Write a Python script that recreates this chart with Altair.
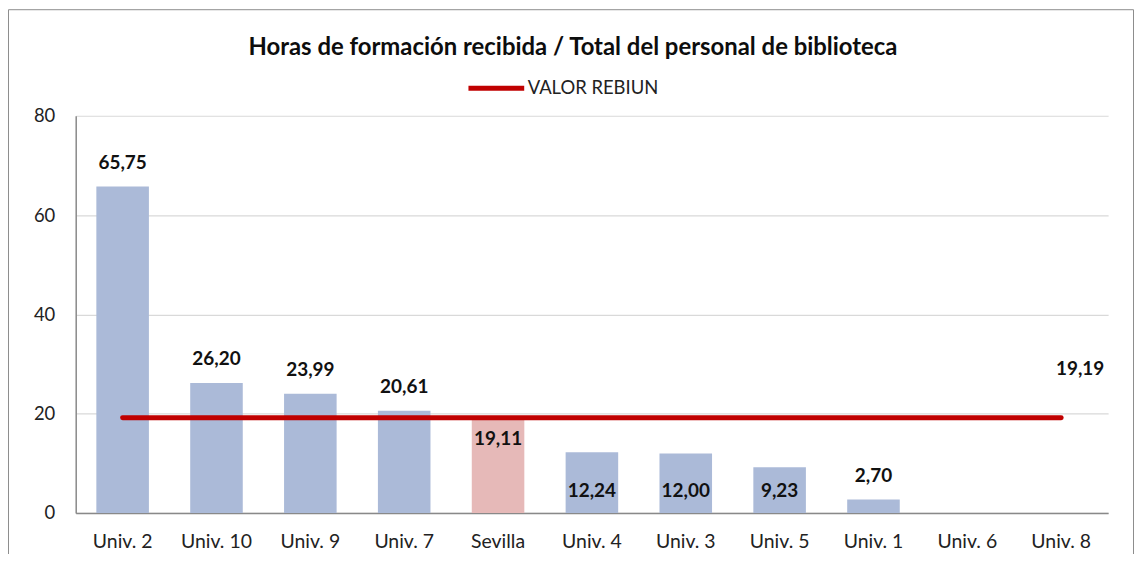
import altair as alt
import pandas as pd

categorias = ["Univ. 2", "Univ. 10", "Univ. 9", "Univ. 7", "Sevilla", "Univ. 4",
              "Univ. 3", "Univ. 5", "Univ. 1", "Univ. 6", "Univ. 8"]
valores = [65.75, 26.20, 23.99, 20.61, 19.11, 12.24, 12.00, 9.23, 2.70, None, None]
posicion_etiqueta = ["above", "above", "above", "above", "end", "base",
                     "base", "base", "above", "none", "none"]
valor_rebiun = 19.19
serie_rebiun = "VALOR REBIUN"
y_ticks = [0, 20, 40, 60, 80]

df = pd.DataFrame({
    "cat": categorias,
    "valor": valores,
    "pos": posicion_etiqueta,
    "rebiun": [valor_rebiun] * len(categorias),
    "serie": [serie_rebiun] * len(categorias),
})

FONT = "Lato"
W, H = 1037, 399
BLUE = "#abbad8"
PINK = "#e6b9b8"
RED = "#c00000"

x_enc = alt.X("cat:N", sort=categorias, title=None,
              scale=alt.Scale(paddingInner=0.44, paddingOuter=0.22),
              axis=alt.Axis(labelAngle=0, labelFont=FONT, labelFontSize=19.5,
                            labelColor="#222222", labelPadding=20, ticks=False,
                            domainColor="#898989", domainWidth=1.5, grid=False))
y_scale = alt.Scale(domain=[0, 80], nice=False)

base = alt.Chart(df)

bars = base.mark_bar().encode(
    x=x_enc,
    y=alt.Y("valor:Q", scale=y_scale, title=None,
            axis=alt.Axis(values=y_ticks, labelFont=FONT, labelFontSize=18.5,
                          labelColor="#222222", labelPadding=21, ticks=False,
                          domainColor="#898989", domainWidth=1.5,
                          gridColor="#d9d9d9", gridWidth=1.2)),
    color=alt.condition(alt.datum.cat == "Sevilla", alt.value(PINK), alt.value(BLUE)),
).transform_filter("isValid(datum.valor)")

line = base.mark_line(strokeWidth=5, strokeCap="round").encode(
    x=alt.X("cat:N", sort=categorias),
    y=alt.Y("rebiun:Q", scale=y_scale),
    color=alt.Color("serie:N", title=None,
                    scale=alt.Scale(domain=[serie_rebiun], range=[RED]),
                    legend=alt.Legend(orient="none", legendX=392, legendY=-58,
                                      direction="horizontal", symbolType="stroke",
                                      symbolSize=3136, symbolStrokeWidth=5,
                                      labelFont=FONT, labelFontSize=18.5,
                                      labelColor="#222222", labelOffset=1,
                                      padding=0)),
)

fmt = "replace(format(datum.valor, '.2f'), '.', ',')"
lbl_common = dict(font=FONT, fontSize=19, fontWeight="bold", color="#111111",
                  baseline="middle", align="center")

lbl_above = base.transform_filter("datum.pos == 'above'").transform_calculate(
    txt=fmt).mark_text(dy=-24, **lbl_common).encode(
    x=alt.X("cat:N", sort=categorias), y=alt.Y("valor:Q", scale=y_scale), text="txt:N")

lbl_end = base.transform_filter("datum.pos == 'end'").transform_calculate(
    txt=fmt).mark_text(dy=21, **lbl_common).encode(
    x=alt.X("cat:N", sort=categorias), y=alt.Y("valor:Q", scale=y_scale), text="txt:N")

lbl_base = base.transform_filter("datum.pos == 'base'").transform_calculate(
    txt=fmt, cero="0").mark_text(dy=-22, **lbl_common).encode(
    x=alt.X("cat:N", sort=categorias), y=alt.Y("cero:Q", scale=y_scale), text="txt:N")

lbl_rebiun = base.transform_filter(alt.datum.cat == categorias[-1]).transform_calculate(
    txt="replace(format(datum.rebiun, '.2f'), '.', ',')").mark_text(
    dx=19, dy=-49, **lbl_common).encode(
    x=alt.X("cat:N", sort=categorias), y=alt.Y("rebiun:Q", scale=y_scale), text="txt:N")

border = alt.Chart(pd.DataFrame({"a": [0]})).mark_rect(
    fill="transparent", stroke="#8c8c8c", strokeWidth=1).encode(
    x=alt.value(-67.5), x2=alt.value(1062.5), y=alt.value(-106.5), y2=alt.value(470))

chart = alt.layer(border, bars, line, lbl_above, lbl_end, lbl_base, lbl_rebiun).properties(
    width=W, height=H,
    title=alt.TitleParams("Horas de formación recibida / Total del personal de biblioteca",
                          font=FONT, fontSize=24, fontWeight="bold", color="#0d0d0d",
                          anchor="middle", frame="group", dx=-19, offset=-51),
    autosize=alt.AutoSizeParams(type="none"),
    padding={"left": 68, "top": 107, "right": 26, "bottom": 40},
).configure_view(stroke="transparent").resolve_scale(color="independent")

chart.save("out.html", embed_options={"renderer": "svg", "actions": False})
